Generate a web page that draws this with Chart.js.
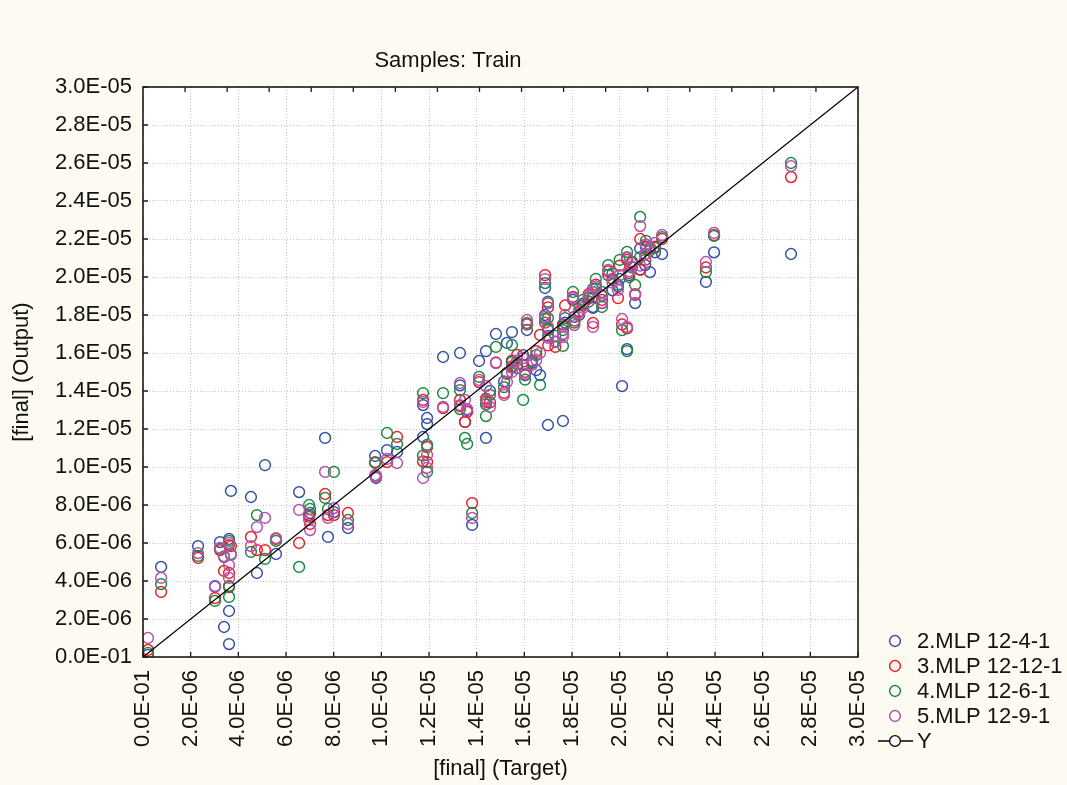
<!DOCTYPE html>
<html>
<head>
<meta charset="utf-8">
<script src="https://cdn.jsdelivr.net/npm/chart.js@4.4.1/dist/chart.umd.min.js"></script>
<style>
  html, body { margin: 0; padding: 0; background: #fdfaf1; }
</style>
</head>
<body>
<canvas id="chart" width="1067" height="785"></canvas>
<script>
// all values are in units of 1e-6
const targets = [
  0.21, 0.76, 2.31, 3.02, 3.23, 3.40, 3.61, 3.61, 3.61, 3.69,
  4.53, 4.78, 5.12, 5.58, 6.55, 6.97, 7.01, 7.64, 7.76, 8.01,
  8.60, 9.74, 9.78, 10.24, 10.66, 11.75, 11.92, 11.92, 11.75, 12.59,
  13.30, 13.30, 13.51, 13.60, 13.81, 14.10, 14.39, 14.39, 14.56, 14.81,
  15.27, 15.15, 15.48, 15.48, 15.95, 16.03, 16.11, 16.32, 16.50, 16.66,
  16.99, 17.62, 16.87, 16.99, 16.87, 17.30, 17.62, 17.71, 18.10, 18.04,
  18.46, 18.88, 18.88, 19.26, 19.26, 19.52, 19.93, 20.10, 20.31, 20.31,
  20.52, 20.65, 20.86, 20.86, 21.07, 21.27, 21.48, 21.78, 23.62, 23.96,
  27.19, 18.30, 18.70, 19.70, 20.00, 20.40, 21.10, 15.70, 17.00, 19.00
];
const mlp2 = [
  0.11, 4.74, 5.84, 3.70, 6.05, 1.58, 0.68, 2.42, 6.21, 8.74,
  8.42, 4.42, 10.10, 5.42, 8.68, 7.47, 7.58, 11.53, 6.32, 7.63,
  6.79, 10.58, 9.42, 10.89, 10.79, 13.26, 12.58, 12.26, 11.58, 15.79,
  16.00, 14.30, 12.37, 13.00, 6.95, 15.58, 16.10, 11.53, 14.00, 17.00,
  16.53, 14.50, 17.10, 15.53, 15.89, 14.84, 17.21, 15.60, 15.10, 14.84,
  12.21, 12.42, 19.42, 18.63, 18.00, 16.60, 17.50, 17.60, 17.90, 18.80,
  18.60, 18.37, 18.42, 19.00, 18.63, 20.10, 19.50, 14.26, 16.20, 21.00,
  20.80, 18.63, 20.40, 21.50, 20.63, 20.26, 21.30, 21.21, 19.74, 21.30,
  21.21, 18.00, 18.90, 19.30, 19.90, 20.10, 21.60, 15.20, 16.90, 19.40
];
const mlp3 = [
  0.37, 3.42, 5.21, 3.10, 5.63, 4.53, 4.42, 3.68, 5.89, 5.84,
  6.32, 5.63, 5.63, 6.21, 6.00, 7.37, 7.00, 8.58, 7.47, 7.47,
  7.58, 10.26, 9.53, 10.26, 11.58, 13.53, 11.05, 10.26, 10.30, 13.10,
  13.53, 13.20, 12.37, 12.90, 8.10, 14.47, 13.42, 13.60, 13.40, 15.50,
  14.90, 13.90, 15.60, 15.30, 15.37, 15.00, 17.50, 15.47, 16.10, 16.95,
  17.30, 17.00, 20.10, 18.40, 17.60, 16.32, 17.40, 18.50, 17.70, 18.95,
  18.50, 17.58, 18.95, 19.00, 18.79, 20.30, 18.89, 17.50, 17.30, 20.90,
  20.74, 19.10, 20.37, 22.00, 20.90, 21.50, 21.60, 22.00, 20.50, 22.20,
  25.26, 18.20, 19.10, 19.90, 20.60, 20.20, 21.70, 15.90, 16.40, 19.60
];
const mlp4 = [
  0.21, 3.84, 5.32, 2.95, 5.70, 5.30, 3.16, 3.74, 6.11, 5.42,
  5.53, 7.47, 5.16, 6.11, 4.74, 8.00, 7.79, 8.37, 7.79, 9.74,
  7.21, 10.21, 9.47, 11.79, 11.21, 13.89, 11.16, 9.74, 10.60, 13.89,
  14.05, 13.05, 11.53, 11.21, 7.58, 14.74, 12.68, 13.30, 13.80, 16.32,
  14.95, 14.20, 16.42, 15.53, 13.53, 14.60, 17.58, 15.50, 15.89, 14.32,
  17.84, 17.20, 19.68, 18.70, 17.80, 16.90, 16.37, 17.84, 17.60, 19.21,
  18.80, 19.37, 19.20, 19.21, 18.42, 20.63, 19.60, 17.20, 16.10, 21.32,
  20.50, 19.58, 21.05, 23.16, 21.20, 21.40, 21.53, 22.10, 20.26, 22.16,
  26.00, 18.50, 18.70, 20.20, 20.90, 20.00, 21.90, 15.40, 17.20, 19.90
];
const mlp5 = [
  1.00, 4.16, 5.47, 3.74, 5.74, 5.26, 4.16, 4.84, 6.00, 5.37,
  5.84, 6.84, 7.32, 6.26, 7.74, 7.21, 6.68, 9.74, 7.32, 7.84,
  7.00, 9.58, 9.47, 10.42, 10.21, 13.42, 10.63, 9.95, 9.42, 13.16,
  13.26, 14.42, 13.53, 13.05, 7.32, 14.58, 14.26, 13.53, 13.16, 15.47,
  14.47, 13.79, 15.21, 15.00, 15.74, 14.90, 17.74, 15.37, 15.63, 16.00,
  17.37, 17.00, 19.89, 18.63, 17.90, 16.58, 16.84, 18.00, 17.47, 18.89,
  18.37, 17.37, 19.21, 19.05, 18.63, 20.37, 19.32, 17.79, 17.37, 21.05,
  20.53, 19.05, 20.60, 22.68, 21.20, 21.58, 21.80, 22.21, 20.79, 22.32,
  25.84, 18.10, 19.00, 19.70, 20.10, 20.30, 21.70, 15.60, 16.80, 19.50
];
const seriesNames = ['2.MLP 12-4-1', '3.MLP 12-12-1', '4.MLP 12-6-1', '5.MLP 12-9-1'];
const seriesColors = ['#3651a6', '#ec2127', '#1e8a43', '#b552b3'];
const xTickLabels = ['0.0E-01', '2.0E-06', '4.0E-06', '6.0E-06', '8.0E-06', '1.0E-05', '1.2E-05', '1.4E-05',
  '1.6E-05', '1.8E-05', '2.0E-05', '2.2E-05', '2.4E-05', '2.6E-05', '2.8E-05', '3.0E-05'];
const yTickLabels = ['0.0E-01', '2.0E-06', '4.0E-06', '6.0E-06', '8.0E-06', '1.0E-05', '1.2E-05', '1.4E-05',
  '1.6E-05', '1.8E-05', '2.0E-05', '2.2E-05', '2.4E-05', '2.6E-05', '2.8E-05', '3.0E-05'];
const axisRange = [0, 30];

const FONT = { family: '"Liberation Sans", Arial, sans-serif', size: 22 };

const toPoints = (ys) => targets.map((t, i) => ({ x: t, y: ys[i] }));

const datasets = [mlp2, mlp3, mlp4, mlp5].map((ys, i) => ({
  type: 'scatter',
  label: seriesNames[i],
  data: toPoints(ys),
  borderColor: seriesColors[i],
  backgroundColor: 'rgba(0,0,0,0)',
  pointRadius: 5.4,
  pointBorderWidth: 1.5,
  order: 4 - i
}));

// Y = X reference line
datasets.push({
  type: 'line',
  label: 'Y',
  data: axisRange.map(v => ({ x: v, y: v })),
  borderColor: '#000',
  borderWidth: 1.3,
  pointRadius: 0,
  order: 0
});

const paper = {
  id: 'paper',
  beforeDraw(chart) {
    const { ctx, chartArea: a } = chart;
    ctx.save();
    ctx.fillStyle = '#fdfaf1';
    ctx.fillRect(0, 0, chart.width, chart.height);
    ctx.fillStyle = '#ffffff';
    ctx.fillRect(a.left, a.top, a.right - a.left, a.bottom - a.top);
    ctx.restore();
  },
  afterDraw(chart) {
    const { ctx, chartArea: a } = chart;
    const xs = chart.scales.x, ys = chart.scales.y;
    ctx.save();
    ctx.strokeStyle = '#1a1a1a';
    ctx.lineWidth = 1.6;
    ctx.strokeRect(a.left, a.top, a.right - a.left, a.bottom - a.top);
    // inner tick marks
    ctx.lineWidth = 1.3;
    ctx.beginPath();
    xs.ticks.forEach(t => {
      const px = xs.getPixelForValue(t.value);
      ctx.moveTo(px, a.bottom); ctx.lineTo(px, a.bottom - 5);
    });
    ys.ticks.forEach(t => {
      const py = ys.getPixelForValue(t.value);
      ctx.moveTo(a.left, py); ctx.lineTo(a.left + 5, py);
    });
    for (let i = 1; i < 17; i++) {
      const px = a.left + (a.right - a.left) * i / 17;
      ctx.moveTo(px, a.top); ctx.lineTo(px, a.top + 5);
    }
    ctx.stroke();

    // title
    ctx.fillStyle = '#111';
    ctx.font = `${FONT.size}px ${FONT.family}`;
    ctx.textAlign = 'center';
    ctx.textBaseline = 'alphabetic';
    ctx.fillText('Samples: Train', 448, 67);

    // legend
    const lx = a.right + 37, ly = a.bottom - 16, step = 25;
    ctx.textAlign = 'left';
    ctx.textBaseline = 'middle';
    chart.data.datasets.forEach((ds, i) => {
      const y = ly + i * step;
      if (ds.type === 'line') {
        ctx.strokeStyle = '#000';
        ctx.lineWidth = 1.3;
        ctx.beginPath();
        ctx.moveTo(lx - 17, y); ctx.lineTo(lx + 18, y);
        ctx.stroke();
        ctx.fillStyle = '#fff';
        ctx.beginPath(); ctx.arc(lx, y, 5.4, 0, Math.PI * 2); ctx.fill(); ctx.stroke();
      } else {
        ctx.strokeStyle = ds.borderColor;
        ctx.lineWidth = 1.5;
        ctx.beginPath(); ctx.arc(lx, y, 5.4, 0, Math.PI * 2); ctx.stroke();
      }
      ctx.fillStyle = '#111';
      ctx.fillText(ds.label, lx + 22, y + 1);
    });
    ctx.restore();
  }
};

const gridOpts = { color: '#c4c4c4', lineWidth: 1, drawTicks: false };
const borderOpts = { display: false, dash: [1, 2] };

new Chart(document.getElementById('chart'), {
  data: { datasets },
  options: {
    responsive: false,
    animation: false,
    layout: { padding: { top: 87, right: 209, left: 0, bottom: 0 } },
    plugins: { legend: { display: false }, tooltip: { enabled: false } },
    scales: {
      x: {
        type: 'linear',
        min: axisRange[0],
        max: axisRange[1],
        afterFit: (s) => { s.height = 128; },
        ticks: {
          stepSize: 2, autoSkip: false, minRotation: 90, maxRotation: 90,
          padding: 13, color: '#111', font: FONT,
          callback: (v, i) => xTickLabels[i]
        },
        grid: gridOpts,
        border: borderOpts,
        title: { display: true, text: '[final] (Target)', color: '#111', font: FONT, padding: { top: 0, bottom: 3 } }
      },
      y: {
        type: 'linear',
        min: axisRange[0],
        max: axisRange[1],
        afterFit: (s) => { s.width = 143; },
        ticks: {
          stepSize: 2, autoSkip: false, padding: 11, color: '#111', font: FONT,
          callback: (v, i) => yTickLabels[i]
        },
        grid: gridOpts,
        border: borderOpts,
        title: { display: true, text: '[final] (Output)', color: '#111', font: FONT, padding: { top: 9, bottom: 0 } }
      }
    }
  },
  plugins: [paper]
});
</script>
</body>
</html>
